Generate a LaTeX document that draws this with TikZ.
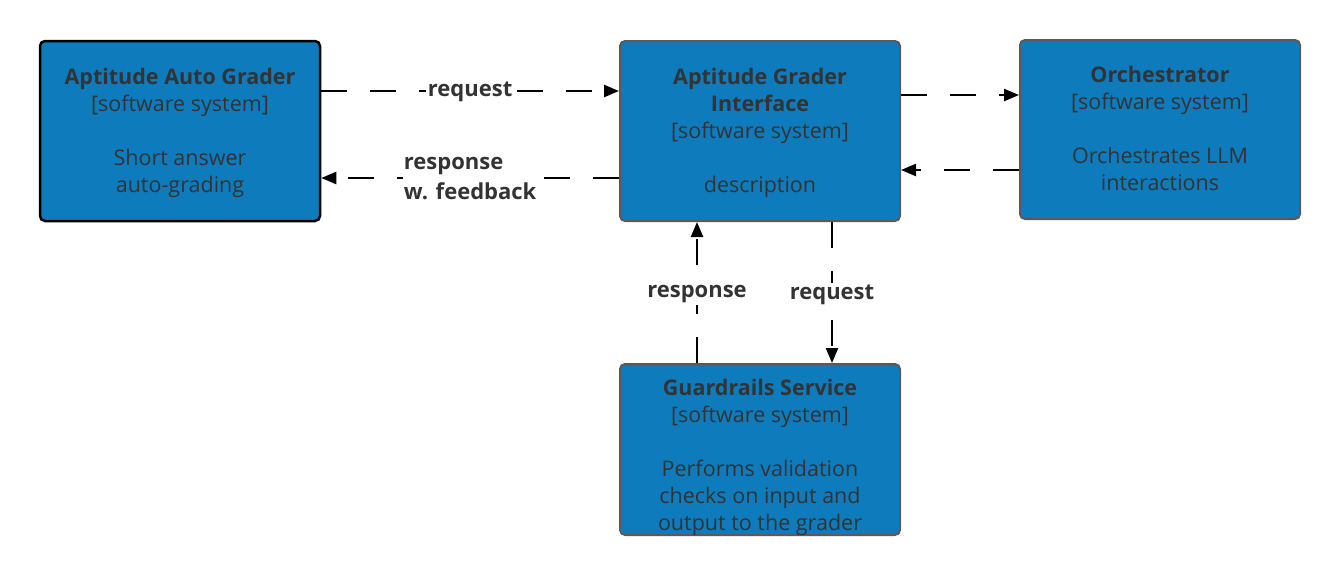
\documentclass[tikz,border=0pt]{standalone}
\usepackage{fontspec}
\setmainfont{Open Sans}
\usetikzlibrary{arrows.meta}
\definecolor{boxfill}{RGB}{14,123,189}
\definecolor{boxline}{RGB}{90,90,90}
\definecolor{txt}{RGB}{51,51,51}
\begin{document}
\begin{tikzpicture}[x=1pt,y=-1pt,
  sysbox/.style={draw=boxline,line width=2pt,fill=boxfill,rounded corners=5pt,minimum width=280pt,minimum height=180pt,inner sep=0pt},
  extbox/.style={sysbox,draw=black,line width=2.5pt},
  boxtext/.style={text=txt,align=center,font=\fontsize{21.5}{27}\selectfont,inner sep=0pt},
  conn/.style={line width=2.4pt,dash pattern=on 26pt off 23pt,-{Triangle[length=15pt,width=12pt]}},
  connlabel/.style={fill=white,text=txt,font=\bfseries\fontsize{22}{27}\selectfont,inner sep=2pt}
]
\useasboundingbox (0,0) rectangle (1340,576);
% boxes
\node[extbox] (aag) at (180,131) {};
\node[sysbox] (agi) at (760,131) {};
\node[sysbox,minimum height=179pt] (orc) at (1160,129.5) {};
\node[sysbox,minimum height=171pt] (grd) at (760,449.5) {};
% texts
\node[boxtext] (aagt) at (180,133) {\textbf{Aptitude Auto Grader}\\{}[software system]\\[27pt]Short answer\\auto-grading};
\node[boxtext] (agit) at (760,133) {\textbf{Aptitude Grader}\\\textbf{Interface}\\{}[software system]\\[27pt]description};
\node[boxtext] (orct) at (1160,128) {\textbf{Orchestrator}\\{}[software system]\\[27pt]Orchestrates LLM\\interactions};
\node[boxtext] (grdt) at (760,457.5) {\textbf{Guardrails Service}\\{}[software system]\\[27pt]Performs validation\\checks on input and\\output to the grader};
% connectors
\coordinate (a1) at (aag.east |- 0,91);
\coordinate (b1) at (agi.west |- 0,91);
\draw[conn] (a1) -- node[connlabel,yshift=-1pt] (l1) {request} (b1);
\coordinate (a2) at (agi.west |- 0,178);
\coordinate (b2) at (aag.east |- 0,178);
\draw[conn] (a2) -- node[connlabel,align=left,font=\bfseries\fontsize{22}{30}\selectfont,inner sep=1pt,yshift=-1pt] (l2) {response\\w. feedback} (b2);
\coordinate (a3) at (agi.east |- 0,95);
\coordinate (b3) at (orc.west |- 0,95);
\draw[conn] (a3) -- (b3);
\coordinate (a4) at (orc.west |- 0,170);
\coordinate (b4) at (agi.east |- 0,170);
\draw[conn] (a4) -- (b4);
\coordinate (a5) at (697,0 |- grd.north);
\coordinate (b5) at (697,0 |- agi.south);
\draw[conn] (a5) -- node[connlabel,yshift=-2pt] (l5) {response} (b5);
\coordinate (a6) at (832,0 |- agi.south);
\coordinate (b6) at (832,0 |- grd.north);
\draw[conn] (a6) -- node[connlabel,yshift=-2pt] (l6) {request} (b6);
\end{tikzpicture}
\end{document}
